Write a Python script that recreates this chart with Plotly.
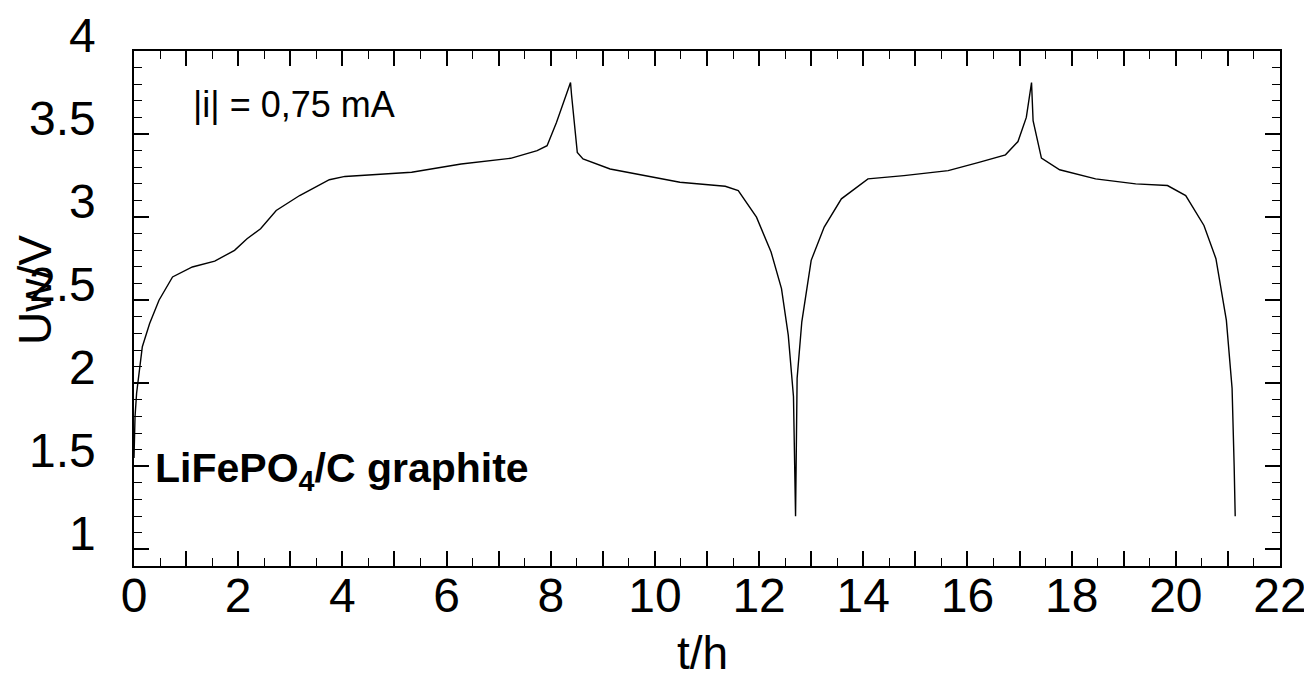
import plotly.graph_objects as go

# Time (h) and cell voltage (V)
t_h = [0.0, 0.02, 0.05, 0.13, 0.16, 0.30, 0.48, 0.74, 1.12, 1.55, 1.93, 2.17,
       2.43, 2.73, 3.18, 3.75, 4.05, 5.33, 6.28, 7.23, 7.74, 7.93, 8.11, 8.38,
       8.40, 8.51, 8.62, 9.14, 9.62, 10.48, 11.35, 11.60, 11.95, 12.23, 12.43,
       12.56, 12.66, 12.70, 12.73, 12.82, 13.00, 13.25, 13.58, 14.09, 14.78,
       15.63, 16.22, 16.73, 16.97, 17.13, 17.23, 17.26, 17.42, 17.77, 18.46,
       19.23, 19.84, 20.19, 20.54, 20.77, 20.97, 21.08, 21.12, 21.14]
u_v = [1.55, 1.80, 1.94, 2.14, 2.22, 2.36, 2.50, 2.64, 2.70, 2.735, 2.80, 2.87,
       2.93, 3.04, 3.13, 3.225, 3.245, 3.27, 3.32, 3.354, 3.40, 3.43, 3.57, 3.81,
       3.735, 3.39, 3.35, 3.29, 3.26, 3.21, 3.186, 3.16, 3.00, 2.79, 2.57,
       2.29, 1.92, 1.20, 2.03, 2.37, 2.74, 2.94, 3.11, 3.23, 3.25,
       3.28, 3.33, 3.375, 3.455, 3.60, 3.81, 3.58, 3.355, 3.285, 3.23,
       3.20, 3.19, 3.13, 2.95, 2.75, 2.38, 1.97, 1.50, 1.20]

x_tickvals = list(range(0, 23))
x_ticktext = [str(v) if v % 2 == 0 else "" for v in x_tickvals]
y_tickvals = [1, 1.5, 2, 2.5, 3, 3.5, 4]
NB = "\u00a0\u00a0"
y_ticktext = [s + NB for s in ["1", "1.5", "2", "2.5", "3", "3.5", "4"]]

FONT = "Arial, Liberation Sans, sans-serif"

# plot area on screen (page body has an 8px margin)
PL, PR, PT, PB = 134, 1280, 51, 566
PW, PH = PR - PL, PB - PT

fig = go.Figure()
fig.add_trace(go.Scatter(x=t_h, y=u_v, mode="lines",
                         line=dict(color="black", width=1.4),
                         showlegend=False, hoverinfo="skip"))

axis_common = dict(showgrid=False, zeroline=False, showline=True,
                   linecolor="black", linewidth=2, mirror="allticks",
                   ticks="inside", tickcolor="black",
                   tickfont=dict(family=FONT, size=48, color="black"))

fig.update_xaxes(range=[0, 22], tickmode="array", tickvals=x_tickvals,
                 ticktext=x_ticktext, ticklen=15, tickwidth=1.5,
                 ticklabelstandoff=-14,
                 minor=dict(dtick=0.5, ticks="inside", ticklen=8,
                            tickcolor="black", tickwidth=1.2),
                 **axis_common)
fig.update_yaxes(range=[0.9, 4.0], tickmode="array", tickvals=y_tickvals,
                 ticktext=y_ticktext, ticklen=15, tickwidth=1.5,
                 ticklabelshift=-16,
                 minor=dict(dtick=0.1, ticks="inside", ticklen=8,
                            tickcolor="black", tickwidth=1.2),
                 **axis_common)

def px(x):
    return (x - PL) / PW

def py(y):
    return (PB - y) / PH

fig.add_annotation(text="|i| = 0,75 mA", xref="paper", yref="paper",
                   x=px(191), y=py(104),
                   xanchor="left", yanchor="middle", showarrow=False,
                   font=dict(family=FONT, size=36, color="black"))
fig.add_annotation(text="<b>LiFePO<sub>4</sub>/C graphite</b>", xref="paper",
                   yref="paper", x=px(153), y=py(471),
                   xanchor="left", yanchor="middle", showarrow=False,
                   font=dict(family=FONT, size=41, color="black"))
fig.add_annotation(text="Uw/V", xref="paper", yref="paper",
                   x=px(35), y=py(290), textangle=-90,
                   xanchor="center", yanchor="middle", showarrow=False,
                   font=dict(family=FONT, size=46, color="black"))
fig.add_annotation(text="t/h", xref="paper", yref="paper",
                   x=px(702), y=py(653),
                   xanchor="center", yanchor="middle", showarrow=False,
                   font=dict(family=FONT, size=46, color="black"))

fig.update_layout(width=1312, height=680,
                  margin=dict(l=PL - 8, r=1312 - (PR - 8), t=PT - 8,
                              b=680 - (PB - 8), autoexpand=False),
                  paper_bgcolor="white", plot_bgcolor="white",
                  font=dict(family=FONT, color="black"))

fig.write_html("out.html")
